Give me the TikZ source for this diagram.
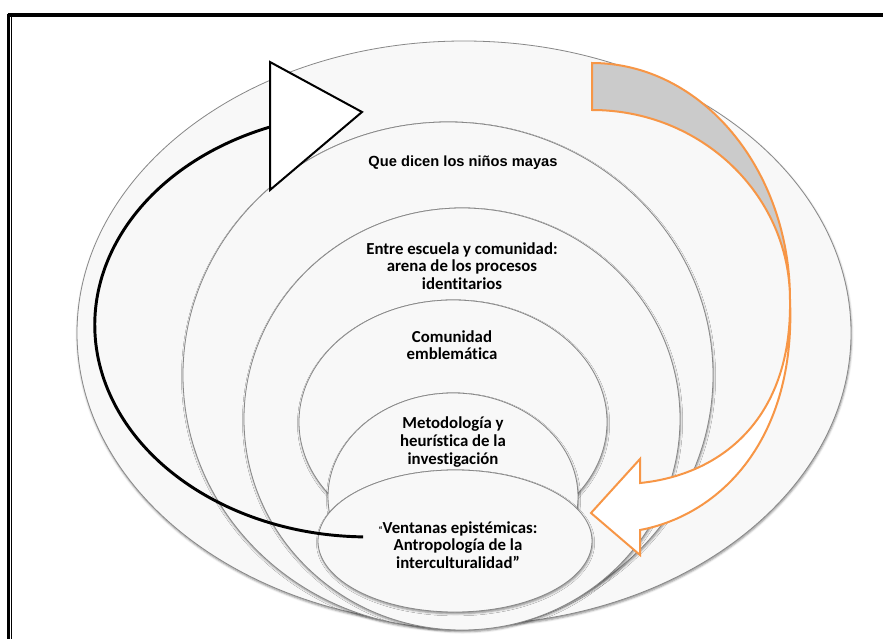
\documentclass[tikz,border=0pt]{standalone}
\usepackage{fontspec}
\setmainfont{Carlito}[Ligatures=NoCommon]
\newfontfamily\arialfont{Liberation Sans}
\usetikzlibrary{shadows.blur}
\definecolor{ellfill}{HTML}{F8F8F8}
\definecolor{elldraw}{HTML}{888888}
\definecolor{arroworange}{HTML}{F79646}
\definecolor{backgray}{HTML}{CBCBCB}
\tikzset{
  ell/.style={draw=elldraw, line width=0.6pt, fill=ellfill,
    blur shadow={shadow xshift=0.4pt, shadow yshift=-1.3pt, shadow blur radius=1.6pt, shadow opacity=45}},
  lbl/.style={align=center, font=\bfseries\fontsize{12.6}{13.2}\selectfont, inner sep=0pt},
  orangeline/.style={draw=arroworange, line width=1.5pt, line join=miter},
  blackline/.style={draw=black, line width=2.2pt},
  blackhead/.style={draw=black, line width=1.5pt, fill=white, line join=miter},
  frameline/.style={draw=black}
}
\begin{document}
\begin{tikzpicture}[x=0.75pt,y=-0.75pt]
\useasboundingbox (0,0) rectangle (883,639);
% frame
\draw[frameline, line width=2.4pt] (7.5,15) -- (883,15);
\draw[frameline, line width=2pt] (8.7,13.8) -- (8.7,639);
\draw[frameline, line width=1pt] (11.7,16.5) -- (11.7,639);
% nested ellipses
\path[ell] (464,333) ellipse [x radius=387, y radius=292];
\path[ell] (448,375) ellipse [x radius=265, y radius=253];
\path[ell] (462,419) ellipse [x radius=218, y radius=211];
\path[ell] (453,422) ellipse [x radius=154, y radius=122];
\path[ell] (453,497) ellipse [x radius=125, y radius=104];
\path[ell] (455,541) ellipse [x radius=137, y radius=71];
% labels
\node[lbl, font=\arialfont\bfseries\fontsize{11}{13}\selectfont] (t1) at (463,163) {Que dicen los niños mayas};
\node[lbl] (t2) at (462,266) {Entre escuela y comunidad:\\arena de los procesos\\identitarios};
\node[lbl] (t3) at (452,345) {Comunidad\\emblemática};
\node[lbl] (t4) at (453,442) {Metodología y\\heurística de la\\investigación};
\node[lbl] (t5) at (458,545) {{\fontsize{7}{7}\selectfont “}Ventanas epistémicas:\\Antropología de la\\interculturalidad”};
% black circular arrow
\coordinate (bstart) at (363,537);
\coordinate (bend) at (270,127);
\draw[blackline] (bend) arc [start angle=249, end angle=91, x radius=273, y radius=212];
\coordinate (h1) at (270,62);
\coordinate (h2) at (270,190);
\coordinate (h3) at (362,112);
\draw[blackhead] (h1) -- (h3) -- (h2) -- cycle;
% orange curved arrow: twisted back part
\coordinate (o1) at (592,63);
\coordinate (o2) at (592,110);
\coordinate (ox) at (790,300);
\draw[orangeline, fill=backgray] (o1) -- (o2)
   arc [start angle=-90, end angle=0, x radius=198, y radius=190]
   arc [start angle=0, end angle=-90, x radius=198, y radius=237] -- cycle;
% orange curved arrow: front part with head
\coordinate (s1) at (640,483);
\coordinate (b1) at (640,459);
\coordinate (tip) at (591,513);
\coordinate (b2) at (640,555);
\coordinate (s2) at (640,530);
\draw[orangeline, fill=white] (ox) .. controls (792,420) and (720,475) .. (s1)
   -- (b1) -- (tip) -- (b2) -- (s2)
   .. controls (720,515) and (796,440) .. (ox) -- cycle;
\end{tikzpicture}
\end{document}
